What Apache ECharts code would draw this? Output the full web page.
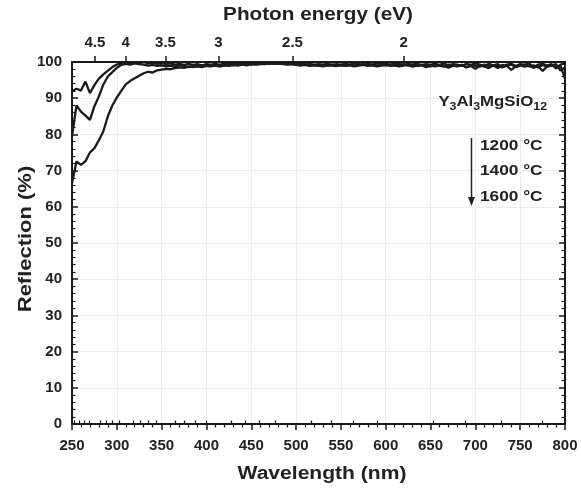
<!DOCTYPE html>
<html>
<head>
<meta charset="utf-8">
<script src="https://cdn.jsdelivr.net/npm/echarts@6/dist/echarts.min.js"></script>
<style>
html,body{margin:0;padding:0;background:#fff;}
#chart{width:581px;height:491px;}
</style>
</head>
<body>
<div id="chart"></div>
<script>
// Wavelength grid (nm), 250..800 step 5
var wavelengths = [];
for (var w = 250; w <= 800; w += 5) wavelengths.push(w);

var r1200 = [
92.0, 92.6, 92.1, 94.6, 91.4, 93.6, 95.4, 96.6, 97.6, 98.6, 99.3,
99.7, 99.9, 99.6, 99.9, 99.7, 100, 99.6, 99.8, 99.5, 99.7,
99.4, 99.6, 99.3, 99.5, 99.2, 99.5, 99.2, 99.4, 99.1, 99.4,
99.3, 99.5, 99.2, 99.6, 99.4, 99.7, 99.5, 99.8, 99.6, 99.8,
99.7, 99.9, 99.7, 99.8, 99.6, 99.8, 99.5, 99.7, 99.6, 99.4,
99.6, 99.3, 99.5, 99.2, 99.4, 99.3, 99.5, 99.2, 99.4, 99.3,
99.5, 99.3, 99.6, 99.4, 99.2, 99.5, 99.3, 99.6, 99.4, 99.5,
99.3, 99.6, 99.4, 99.2, 99.5, 99.3, 99.6, 99.1, 99.4, 99.3,
99.5, 99.2, 99.6, 99.0, 99.4, 99.3, 98.9, 99.5, 99.2, 99.6,
99.3, 98.8, 99.5, 99.1, 99.4, 98.6, 99.3, 99.5, 98.9, 99.4,
99.2, 99.6, 98.4, 99.3, 99.5, 99.0, 99.4, 98.2, 99.3, 99.6
];
var r1400 = [
79.5, 88.0, 86.3, 85.2, 84.0, 87.8, 90.5, 93.8, 96.0, 97.2, 98.4,
99.2, 99.5, 99.3, 99.6, 99.4, 99.3, 99.0, 99.2, 98.9, 99.1,
98.8, 99.0, 98.7, 99.1, 98.9, 98.6, 99.0, 98.8, 99.1, 98.9,
99.1, 98.9, 99.2, 99.0, 99.3, 99.1, 99.4, 99.2, 99.5, 99.3,
99.5, 99.4, 99.6, 99.5, 99.7, 99.5, 99.6, 99.4, 99.5, 99.3,
99.2, 99.4, 99.1, 99.3, 99.0, 99.2, 99.1, 99.3, 99.0, 99.2,
99.1, 99.3, 99.0, 99.2, 99.4, 99.1, 99.3, 99.0, 99.2, 99.1,
99.3, 99.0, 99.2, 99.4, 99.0, 99.2, 98.9, 99.3, 99.1, 98.8,
99.2, 99.0, 98.7, 99.3, 99.1, 98.9, 99.2, 98.5, 99.1, 99.0,
98.7, 99.3, 98.9, 99.1, 98.3, 99.2, 98.9, 99.3, 98.6, 99.0,
99.3, 98.8, 99.1, 98.5, 99.2, 98.7, 99.0, 99.4, 97.6, 98.6
];
var r1600 = [
66.5, 72.5, 71.6, 72.6, 75.0, 76.2, 78.4, 80.9, 85.0, 88.0, 90.2,
92.0, 93.8, 94.8, 95.5, 96.2, 96.9, 97.3, 97.1, 97.7, 97.9,
98.1, 98.0, 98.3, 98.5, 98.4, 98.7, 98.6, 98.8, 98.6, 98.9,
98.8, 99.0, 98.7, 99.1, 98.9, 99.2, 99.0, 99.3, 99.1, 99.4,
99.3, 99.5, 99.4, 99.6, 99.5, 99.6, 99.4, 99.3, 99.4, 99.2,
99.0, 99.2, 98.9, 99.1, 99.0, 98.8, 99.1, 99.0, 98.9, 99.1,
98.9, 99.1, 98.8, 99.0, 99.2, 98.9, 99.1, 98.8, 99.0, 99.2,
98.9, 99.1, 98.8, 99.0, 99.2, 98.7, 99.0, 99.1, 98.6, 99.0,
98.8, 99.1, 98.9, 98.4, 99.0, 98.8, 99.2, 98.6, 98.9, 98.1,
99.0, 98.8, 98.3, 99.1, 98.9, 98.5, 99.0, 97.8, 98.8, 99.1,
98.7, 99.0, 98.4, 98.9, 97.5, 98.8, 99.1, 98.6, 98.9, 95.5
];

// Photon energy tick labels (eV) for the top axis
var energyMajor = [4.5, 4, 3.5, 3, 2.5, 2];
var energyMinor = [4.9, 4.8, 4.7, 4.6, 4.4, 4.3, 4.2, 4.1, 3.9, 3.8, 3.7, 3.6,
  3.4, 3.3, 3.2, 3.1, 2.9, 2.8, 2.7, 2.6, 2.4, 2.3, 2.2, 2.1, 1.9, 1.8, 1.7, 1.6];
var HC = 1240; // eV*nm

var seriesNames = ['1200 °C', '1400 °C', '1600 °C'];
var seriesValues = [r1200, r1400, r1600];

function pairs(vals) {
  return wavelengths.map(function (w, i) { return [w, vals[i]]; });
}
function toNm(e) { return HC / e; }

var FONT = "'Liberation Sans', Arial, Helvetica, sans-serif";
var INK = '#1a1a1a';

var chart = echarts.init(document.getElementById('chart'), null, {renderer: 'canvas'});

var labelStyle = {fontFamily: FONT, fontWeight: 'bold', fontSize: 15, color: '#222'};

var option = {
  animation: false,
  backgroundColor: '#fff',
  grid: {left: 72, right: 16, top: 62, bottom: 67, containLabel: false},
  xAxis: [
    {
      type: 'value', position: 'bottom', min: 250, max: 800, interval: 50,
      axisLine: {show: true, lineStyle: {color: INK, width: 2}},
      axisTick: {show: true, inside: false, length: 6, lineStyle: {color: INK, width: 1.5}},
      minorTick: {show: true, splitNumber: 5, length: 3.5, lineStyle: {color: INK, width: 1.2}},
      axisLabel: Object.assign({margin: 14}, labelStyle),
      splitLine: {show: true, lineStyle: {color: '#ededed', width: 1}},
      minorSplitLine: {show: false}
    },
    {
      type: 'value', position: 'top', min: 250, max: 800,
      axisLine: {show: true, onZero: false, lineStyle: {color: INK, width: 2}},
      axisTick: {show: true, inside: false, length: 6, customValues: energyMajor.map(toNm),
        lineStyle: {color: INK, width: 1.5}},
      axisLabel: Object.assign({margin: 12, customValues: energyMajor.map(toNm),
        formatter: function (v) { return String(+(HC / v).toFixed(1)); }}, labelStyle),
      splitLine: {show: false}
    },
    {
      type: 'value', position: 'top', min: 250, max: 800,
      axisLine: {show: false},
      axisTick: {show: true, inside: false, length: 3.5, customValues: energyMinor.map(toNm),
        lineStyle: {color: INK, width: 1.2}},
      axisLabel: {show: false},
      splitLine: {show: false}
    }
  ],
  yAxis: [
    {
      type: 'value', position: 'left', min: 0, max: 100, interval: 10,
      axisLine: {show: true, onZero: false, lineStyle: {color: INK, width: 2}},
      axisTick: {show: true, inside: true, length: 6, lineStyle: {color: INK, width: 1.5}},
      minorTick: {show: true, splitNumber: 5, length: 3.5, lineStyle: {color: INK, width: 1.2}},
      axisLabel: Object.assign({margin: 10}, labelStyle),
      splitLine: {show: true, lineStyle: {color: '#ededed', width: 1}}
    },
    {
      type: 'value', position: 'right', min: 0, max: 100, interval: 10,
      axisLine: {show: true, onZero: false, lineStyle: {color: INK, width: 2}},
      axisTick: {show: true, inside: true, length: 6, lineStyle: {color: INK, width: 1.5}},
      minorTick: {show: true, splitNumber: 5, length: 3.5, lineStyle: {color: INK, width: 1.2}},
      axisLabel: {show: false},
      splitLine: {show: false}
    }
  ],
  series: seriesValues.map(function (vals, k) {
    return {
      name: seriesNames[k], type: 'line', xAxisIndex: 0, yAxisIndex: 0,
      data: pairs(vals), showSymbol: false, symbol: 'none', smooth: false,
      lineStyle: {color: INK, width: 2.3}, z: 3
    };
  }),
  graphic: [
    {type: 'text', x: 318, y: 15, scaleX: 1.15, z: 100,
      style: {text: 'Photon energy (eV)', font: 'bold 18px ' + FONT, fill: '#222', align: 'center', verticalAlign: 'middle'}},
    {type: 'text', x: 322, y: 474, scaleX: 1.17, z: 100,
      style: {text: 'Wavelength (nm)', font: 'bold 18px ' + FONT, fill: '#222', align: 'center', verticalAlign: 'middle'}},
    {type: 'text', x: 26, y: 239, rotation: Math.PI / 2, scaleX: 1.22, z: 100,
      style: {text: 'Reflection (%)', font: 'bold 18px ' + FONT, fill: '#222', align: 'center', verticalAlign: 'middle'}},
    {type: 'text', x: 547, y: 102, scaleX: 1.12, z: 100,
      style: {text: 'Y{s|3}Al{s|3}MgSiO{s|12}', font: 'bold 15px ' + FONT, fill: '#222',
        align: 'right', verticalAlign: 'middle',
        rich: {s: {fontFamily: FONT, fontWeight: 'bold', fontSize: 11, fill: '#222', padding: [9, 0, 0, 0]}}}},
    {type: 'text', x: 480, y: 146, scaleX: 1.15, z: 100,
      style: {text: seriesNames[0], font: 'bold 15px ' + FONT, fill: '#222', align: 'left', verticalAlign: 'middle'}},
    {type: 'text', x: 480, y: 171, scaleX: 1.15, z: 100,
      style: {text: seriesNames[1], font: 'bold 15px ' + FONT, fill: '#222', align: 'left', verticalAlign: 'middle'}},
    {type: 'text', x: 480, y: 197, scaleX: 1.15, z: 100,
      style: {text: seriesNames[2], font: 'bold 15px ' + FONT, fill: '#222', align: 'left', verticalAlign: 'middle'}},
    {type: 'line', z: 100, shape: {x1: 471.5, y1: 138, x2: 471.5, y2: 199}, style: {stroke: '#222', lineWidth: 1.5}},
    {type: 'polygon', z: 100, shape: {points: [[468, 197], [475, 197], [471.5, 206]]}, style: {fill: '#222'}}
  ]
};
chart.setOption(option);
</script>
</body>
</html>
